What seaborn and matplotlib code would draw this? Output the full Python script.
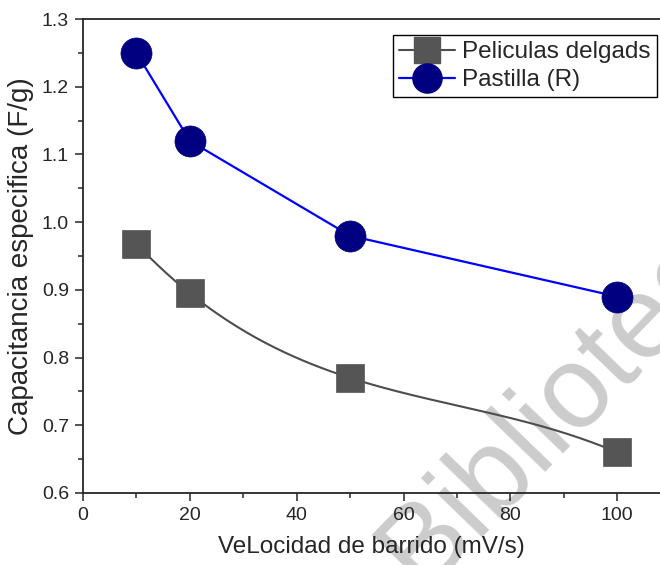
import numpy as np
import pandas as pd
import seaborn as sns
import matplotlib.pyplot as plt
from matplotlib.lines import Line2D
from matplotlib.ticker import MultipleLocator

velocidad = [10, 20, 50, 100]
peliculas = [0.968, 0.895, 0.770, 0.660]
pastilla = [1.25, 1.12, 0.98, 0.89]

df = pd.DataFrame({'Velocidad': velocidad, 'Peliculas': peliculas, 'Pastilla': pastilla})

sns.set_style('ticks')
plt.rcParams['font.family'] = ['Liberation Sans', 'DejaVu Sans']

fig = plt.figure(figsize=(6.6, 5.65), dpi=100)
ax = fig.add_axes([83 / 660, 1 - 493 / 565, 1 - 83 / 660, 474 / 565])

# watermark, behind everything in the axes
ax.text(574 / 660, 1 - 388 / 565, 'Biblioteca', fontsize=84, color='#cccccc', rotation=46,
        rotation_mode='anchor', ha='center', va='center', zorder=0,
        transform=fig.transFigure, clip_on=False)

# smooth connector for the gray series (cubic through the four points)
coef = np.polyfit(df['Velocidad'], df['Peliculas'], 3)
xs = np.linspace(min(velocidad), max(velocidad), 200)
ax.plot(xs, np.polyval(coef, xs), color='#4d4d4d', lw=1.5, zorder=2)
sns.scatterplot(data=df, x='Velocidad', y='Peliculas', marker='s', s=380,
                color='#555555', edgecolor='#555555', linewidth=0.5, ax=ax, zorder=3)

sns.lineplot(data=df, x='Velocidad', y='Pastilla', color='#0000ff', lw=1.6, ax=ax, zorder=2)
sns.scatterplot(data=df, x='Velocidad', y='Pastilla', marker='o', s=500,
                color='#000080', edgecolor='#000080', linewidth=0.5, ax=ax, zorder=3)

ax.set_xlim(0, 108)
ax.set_ylim(0.6, 1.3)
ax.xaxis.set_major_locator(MultipleLocator(20))
ax.xaxis.set_minor_locator(MultipleLocator(10))
ax.yaxis.set_major_locator(MultipleLocator(0.1))
ax.yaxis.set_minor_locator(MultipleLocator(0.05))
ax.tick_params(which='major', length=6, width=1.1, labelsize=14, direction='out', pad=4)
ax.tick_params(which='minor', length=3.5, width=1.1, direction='out')
ax.spines['right'].set_visible(False)
for s in ['left', 'bottom', 'top']:
    ax.spines[s].set_linewidth(1.3)
ax.set_xlabel('VeLocidad de barrido (mV/s)', fontsize=17.5, labelpad=9)
ax.set_ylabel('Capacitancia especifica (F/g)', fontsize=20, labelpad=6)

handles = [
    Line2D([], [], color='#4d4d4d', lw=1.5, marker='s', markersize=19,
           markerfacecolor='#555555', markeredgecolor='#555555'),
    Line2D([], [], color='#0000ff', lw=1.6, marker='o', markersize=21,
           markerfacecolor='#000080', markeredgecolor='#000080'),
]
leg = ax.legend(handles, ['Peliculas delgads', 'Pastilla (R)'], loc='upper right',
                bbox_to_anchor=((657 - 83) / 577, (493 - 35) / 474), fontsize=17.5,
                frameon=True, fancybox=False, handlelength=2.3, handletextpad=0.3,
                borderpad=0.25, labelspacing=0.25, borderaxespad=0)
leg.get_frame().set_edgecolor('black')
leg.get_frame().set_linewidth(1.0)
leg.get_frame().set_alpha(None)
leg.get_frame().set_facecolor('white')

fig.savefig('out.png', dpi=100)
